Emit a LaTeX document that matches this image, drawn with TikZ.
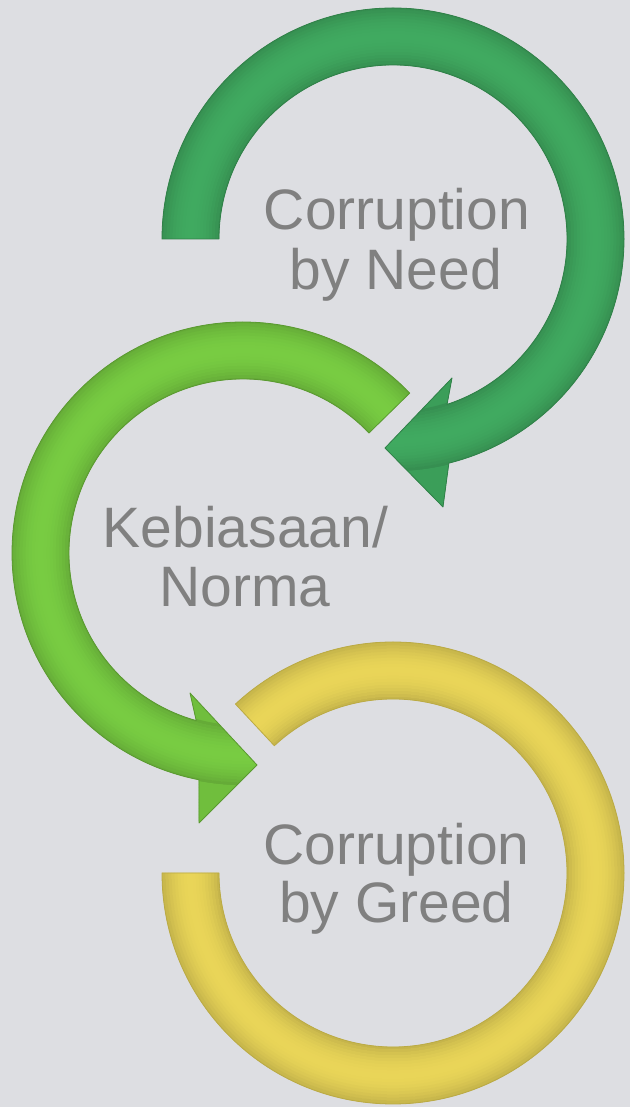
\documentclass[tikz,border=0pt]{standalone}
\usepackage{fontspec}
\setmainfont{Liberation Sans}
\usetikzlibrary{calc}
\definecolor{bg}{RGB}{221,222,226}
\definecolor{dkgreen}{RGB}{64,170,96}
\definecolor{ltgreen}{RGB}{120,204,66}
\definecolor{yel}{RGB}{233,213,88}
\definecolor{txt}{RGB}{128,128,128}
\tikzset{
  lbl/.style={font=\fontsize{57}{59}\selectfont, text=txt, anchor=base, inner sep=0pt},
  rim/.style={line width=0.8pt, line join=round}
}
\begin{document}
\begin{tikzpicture}[x=1pt,y=1pt]
\fill[bg] (0,0) rectangle (630,1107);
\useasboundingbox (0,0) rectangle (630,1107);
\coordinate (c1) at (393,868);
\coordinate (c2) at (243,554);
\coordinate (c3) at (393,234);

% shapes
\path[save path=\arrowA]
  ($(c1)+(180:231)$) arc[start angle=180, end angle=-76, radius=231]
  -- (443,600) -- (385,659) -- (452,729)
  -- ($(c1)+(-71.9:174)$) arc[start angle=-71.9, end angle=180, radius=174] -- cycle;
\path[save path=\arrowB]
  ($(c2)+(43.8:231)$) arc[start angle=43.8, end angle=259, radius=231]
  -- (199,284) -- (257,342) -- (190,414)
  -- ($(c2)+(254.4:174)$) arc[start angle=254.4, end angle=43.6, radius=174] -- cycle;
\path[save path=\arrowC]
  ($(c3)+(180:231)$) arc[start angle=180, end angle=493, radius=231]
  -- ($(c3)+(133:174)$) arc[start angle=493, end angle=180, radius=174] -- cycle;

% dark green arrow
\fill[dkgreen, use path=\arrowA];
\begin{scope}
  \clip[use path=\arrowA];
  \foreach \r in {150,153,...,276} {
    \pgfmathsetmacro\mm{min(abs(\r-202.5)/28.5,1)}
    \pgfmathsetmacro\pp{(\r<172 || \r>233) ? 93 : 100-16*\mm*\mm}
    \draw[line width=3.3pt, dkgreen!\pp!black] (c1) circle (\r);
  }
\end{scope}
\draw[rim, dkgreen!75!black, use path=\arrowA];

% light green arrow
\fill[ltgreen, use path=\arrowB];
\begin{scope}
  \clip[use path=\arrowB];
  \foreach \r in {150,153,...,276} {
    \pgfmathsetmacro\mm{min(abs(\r-202.5)/28.5,1)}
    \pgfmathsetmacro\pp{(\r<172 || \r>233) ? 93 : 100-16*\mm*\mm}
    \draw[line width=3.3pt, ltgreen!\pp!black] (c2) circle (\r);
  }
\end{scope}
\draw[rim, ltgreen!75!black, use path=\arrowB];

% yellow ring
\fill[yel, use path=\arrowC];
\begin{scope}
  \clip[use path=\arrowC];
  \foreach \r in {172,175,...,234} {
    \pgfmathsetmacro\mm{min(abs(\r-202.5)/28.5,1)}
    \pgfmathsetmacro\pp{100-16*\mm*\mm}
    \draw[line width=3.3pt, yel!\pp!black] (c3) circle (\r);
  }
\end{scope}
\draw[rim, yel!80!black, use path=\arrowC];

% labels
\node[lbl] (need1) at (397,877) {Corruption};
\node[lbl] (need2) at (396,817) {by Need};
\node[lbl] (keb1) at (245.5,559) {Kebiasaan/};
\node[lbl] (keb2) at (245,500) {Norma};
\node[lbl] (greed1) at (396.5,242) {Corruption};
\node[lbl] (greed2) at (396.5,184) {by Greed};
\end{tikzpicture}
\end{document}
